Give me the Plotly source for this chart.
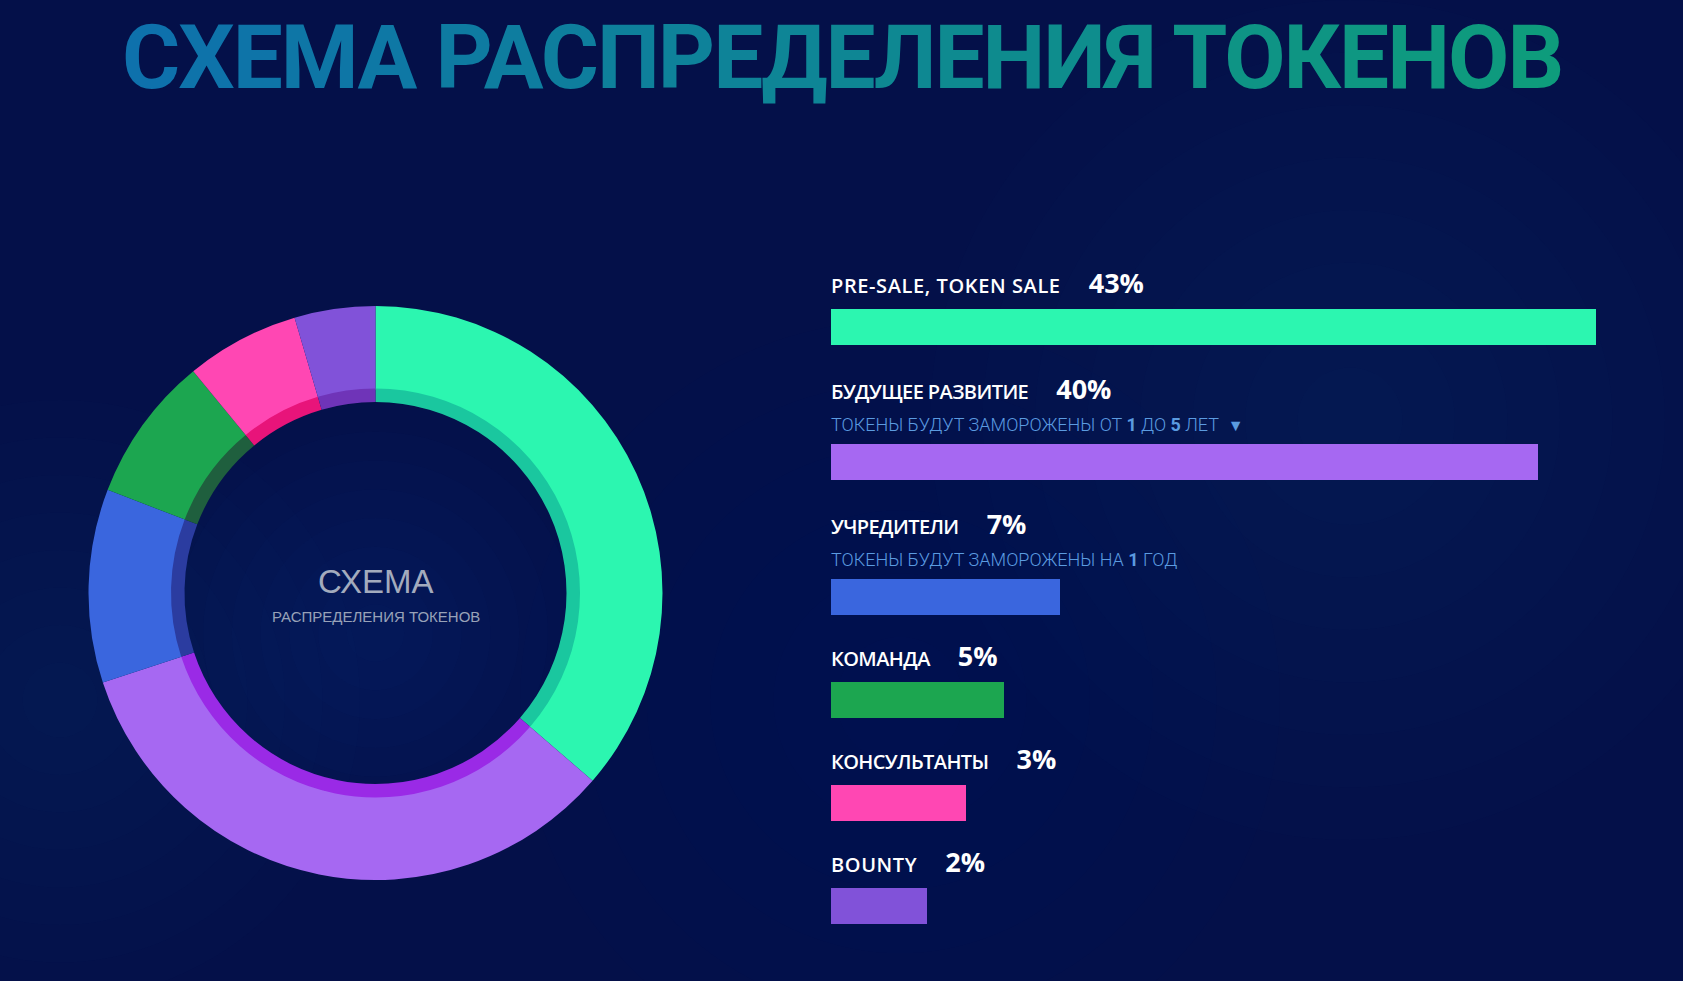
import plotly.graph_objects as go

W, H = 1683, 981

# ---------------- data ----------------
categories = ["PRE-SALE, TOKEN SALE", "БУДУЩЕЕ РАЗВИТИЕ", "УЧРЕДИТЕЛИ",
              "КОМАНДА", "КОНСУЛЬТАНТЫ", "BOUNTY"]
pct_labels = ["43%", "40%", "7%", "5%", "3%", "2%"]
# shares as drawn (donut slices and bar lengths)
shares = [36.35, 33.6, 10.9, 8.2, 6.4, 4.55]
notes = ["",
         "ТОКЕНЫ БУДУТ ЗАМОРОЖЕНЫ ОТ <b>1</b> ДО <b>5</b> ЛЕТ",
         "ТОКЕНЫ БУДУТ ЗАМОРОЖЕНЫ НА <b>1</b> ГОД",
         "", "", ""]
title_text = "СХЕМА РАСПРЕДЕЛЕНИЯ ТОКЕНОВ"
center_title = "СХЕМА"
center_sub = "РАСПРЕДЕЛЕНИЯ ТОКЕНОВ"

# ---------------- styles ----------------
colors = ["#2cf6b0", "#a668f2", "#3a66de", "#1ca650", "#ff47b3", "#8152d9"]
inner_colors = ["#1ac79f", "#9a2ae6", "#2b3ca0", "#1f5f3e", "#e8147a", "#6f34b8"]
BG = "#041049"

# donut geometry (px)
CX, CY = 375.5, 593
R_OUT, R_MID, R_IN = 287, 203.5, 191


def dom(cx, cy, r):
    return dict(x=[(cx - r) / W, (cx + r) / W],
                y=[(H - cy - r) / H, (H - cy + r) / H])


# bar block geometry (px)
BAR_X0 = 830.7
PX_PER_UNIT = 21.05
BAR_H = 35.5
FIRST_ROW = 326.8
ROW_GAP = 103
NOTE_EXTRA = 32

row_y = []
y = FIRST_ROW
for i in range(len(categories)):
    if i > 0:
        y += ROW_GAP + (NOTE_EXTRA if notes[i] else 0)
    row_y.append(y)

fig = go.Figure()


# soft background glows: stacked faint circles
def glow(cx, cy, r, steps, alpha, rgb=(30, 80, 175)):
    out = []
    for s in range(steps):
        rr = r * (1 - s / steps)
        out.append(dict(type="circle", xref="paper", yref="paper", layer="below",
                        x0=(cx - rr) / W, x1=(cx + rr) / W,
                        y0=(H - cy - rr) / H, y1=(H - cy + rr) / H,
                        fillcolor=f"rgba({rgb[0]},{rgb[1]},{rgb[2]},{alpha})",
                        line=dict(width=0)))
    return out


shapes = []
shapes += glow(CX, CY + 40, 230, 8, 0.025)
shapes += glow(1350, 420, 420, 8, 0.02)
shapes += glow(60, 700, 300, 8, 0.018)
shapes += glow(900, 700, 380, 6, 0.012)

fig.add_trace(go.Pie(
    values=shares, labels=categories, sort=False, direction="clockwise",
    rotation=0, hole=R_MID / R_OUT, domain=dom(CX, CY, R_OUT),
    marker=dict(colors=colors, line=dict(width=0)),
    textinfo="none", hoverinfo="label+percent", showlegend=False,
))
fig.add_trace(go.Pie(
    values=shares, labels=categories, sort=False, direction="clockwise",
    rotation=0, hole=R_IN / (R_MID + 1), domain=dom(CX, CY, R_MID + 1),
    marker=dict(colors=inner_colors, line=dict(width=0)),
    textinfo="none", hoverinfo="skip", showlegend=False,
))

fig.add_trace(go.Bar(
    x=shares, y=row_y, orientation="h", width=BAR_H,
    marker=dict(color=colors, line=dict(width=0)),
    hovertext=[f"{c}: {p}" for c, p in zip(categories, pct_labels)],
    hoverinfo="text", showlegend=False,
))

annotations = []

# gradient title, letter by letter
c0, c1 = (14, 113, 172), (14, 156, 124)
n = len(title_text)
parts = []
for k, ch in enumerate(title_text):
    t = k / (n - 1)
    col = tuple(round(a + (b - a) * t) for a, b in zip(c0, c1))
    parts.append(f"<span style='color:rgb{col};letter-spacing:-2px'>{ch}</span>")
annotations.append(dict(
    text="".join(parts), x=842 / W, y=1 - 58 / H, xref="paper", yref="paper",
    xanchor="center", yanchor="middle", showarrow=False,
    font=dict(family="Roboto, Liberation Sans, sans-serif",
              size=89, weight="bold", color="rgb(14,130,150)"),
))

# donut centre text
annotations.append(dict(
    text=center_title, x=CX / W, y=1 - 581 / H, xref="paper", yref="paper",
    xanchor="center", yanchor="middle", showarrow=False,
    font=dict(family="Liberation Sans, Arial", size=33, color="#a3abbd"),
))
annotations.append(dict(
    text=center_sub, x=CX / W, y=1 - 616 / H, xref="paper", yref="paper",
    xanchor="center", yanchor="middle", showarrow=False,
    font=dict(family="Liberation Sans, Arial", size=15, color="#98a2b8"),
))

NB = "\u00a0"
for cat, pct, note, yc in zip(categories, pct_labels, notes, row_y):
    title_off = 73.5 if note else 44
    ls = "0.6px" if cat.isascii() else "-0.6px"
    annotations.append(dict(
        text=(f"<span style='letter-spacing:{ls}'>{cat}</span>"
              f"<span style='font-size:27px'>{NB * 4}<b>{pct}</b></span>"),
        x=0, y=yc - title_off, xref="x", yref="y",
        xanchor="left", yanchor="middle", showarrow=False, xshift=-2,
        font=dict(family="Open Sans, Lato, sans-serif", size=20, weight=600,
                  color="#ffffff"),
    ))
    if note:
        annotations.append(dict(
            text=note + (f"{NB * 2}<span style='font-size:16px'>▼</span>"
                         if "ЛЕТ" in note else ""),
            x=0, y=yc - 37, xref="x", yref="y",
            xanchor="left", yanchor="middle", showarrow=False, xshift=-2,
            font=dict(family="Roboto, Liberation Sans, sans-serif", size=18,
                      weight=300, color="#5b9be0"),
        ))

fig.update_layout(
    width=W, height=H,
    margin=dict(l=0, r=0, t=0, b=0),
    paper_bgcolor=BG, plot_bgcolor="rgba(0,0,0,0)",
    xaxis=dict(domain=[BAR_X0 / W, 1], range=[0, (W - BAR_X0) / PX_PER_UNIT],
               visible=False, fixedrange=True),
    yaxis=dict(domain=[0, 1], range=[H, 0], visible=False, fixedrange=True),
    bargap=0,
    annotations=annotations,
    shapes=shapes,
    showlegend=False,
)

fig.write_html("out.html")
